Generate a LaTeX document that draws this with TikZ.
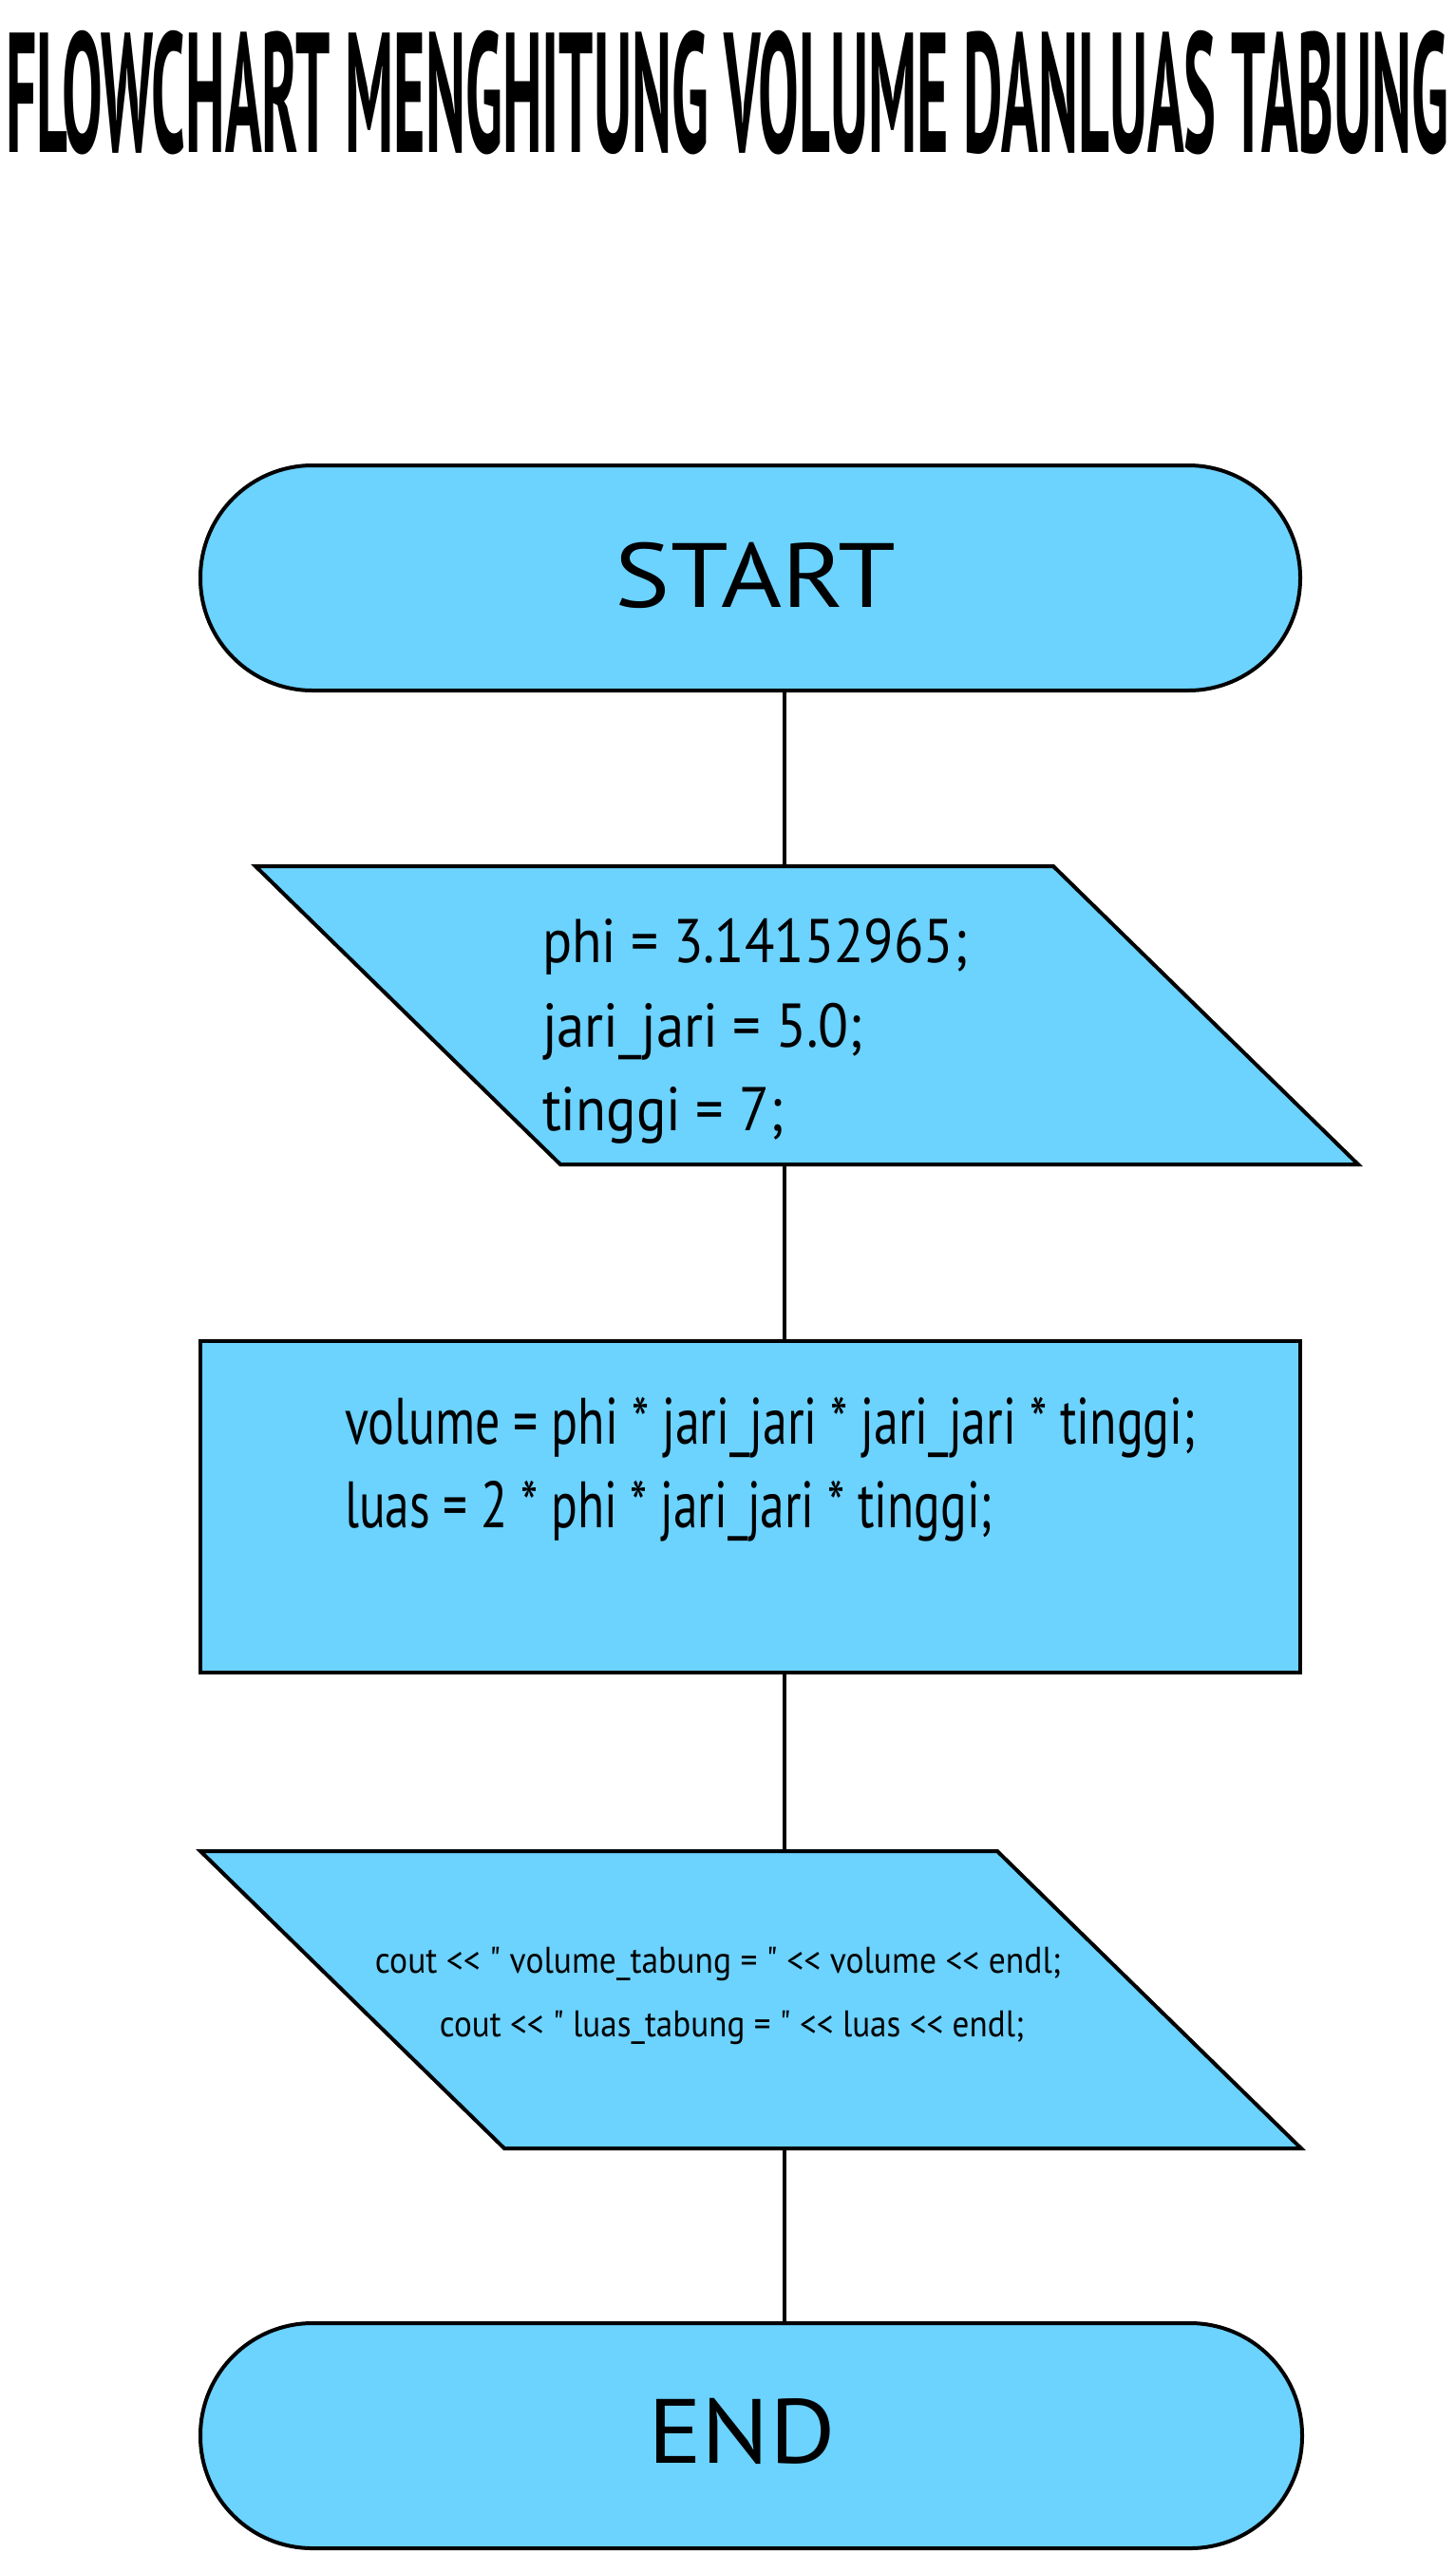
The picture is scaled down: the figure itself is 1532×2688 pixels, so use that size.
\documentclass[tikz,border=0pt]{standalone}
\usepackage{fontspec}
\setmainfont{PT Sans}[Ligatures=TeXOff]
\usepackage{graphicx}
\definecolor{fillblue}{RGB}{108,210,254}
\tikzset{
  shapebox/.style={draw=black, line width=4pt, fill=fillblue, inner sep=0pt},
  frame/.style={draw=none, inner sep=0pt, outer sep=0pt},
  link/.style={draw=black, line width=4pt},
  txt/.style={inner sep=0pt, outer sep=0pt, text=black},
}
\newcommand\fitw[2]{\resizebox{#1pt}{\height}{#2}}
\newcommand\termfont{\fontsize{96}{100}\selectfont}
\newcommand\infont{\fontsize{65}{70}\selectfont}
\newcommand\procfont{\fontsize{69}{74}\selectfont}
\newcommand\outfont{\fontsize{39}{44}\selectfont}
\begin{document}
\begin{tikzpicture}[x=1pt,y=-1pt]
\useasboundingbox[fill=white] (0,0) rectangle (1532,2688);
\coordinate (spine) at (826,0);

% title
\node[txt, anchor=base west] (title) at (6,160)
  {\resizebox{1519pt}{128pt}{\bfseries FLOWCHART MENGHITUNG VOLUME DANLUAS TABUNG}};

% shapes
\node[shapebox, rounded corners=118pt, minimum width=1158pt, minimum height=237pt] (start) at (790,608.5) {};

\node[frame, minimum width=1161pt, minimum height=314pt] (input) at (849.5,1069) {};
\draw[shapebox] ([xshift=321pt]input.south west) -- (input.south east)
  -- ([xshift=-321pt]input.north east) -- (input.north west) -- cycle;

\node[shapebox, minimum width=1158pt, minimum height=349pt] (proc) at (790,1586.5) {};

\node[frame, minimum width=1159pt, minimum height=313pt] (output) at (790.5,2105.5) {};
\draw[shapebox] ([xshift=320pt]output.south west) -- (output.south east)
  -- ([xshift=-320pt]output.north east) -- (output.north west) -- cycle;

\node[shapebox, rounded corners=118pt, minimum width=1160pt, minimum height=237pt] (end) at (791,2564.5) {};

% connectors
\draw[link] (start.south -| spine) -- (input.north -| spine);
\draw[link] (input.south -| spine) -- (proc.north -| spine);
\draw[link] (proc.south -| spine) -- (output.north -| spine);
\draw[link] (output.south -| spine) -- (end.north -| spine);

% texts
\node[txt, anchor=base] (starttext) at (795.5,639) {\termfont\fitw{295}{START}};
\node[txt, anchor=base] (endtext) at (781,2593) {\termfont\fitw{198}{END}};

\node[txt, anchor=base west] (in1) at (571,1013) {\infont\fitw{448}{phi = 3.14152965;}};
\node[txt, anchor=base west] (in2) at (571,1102) {\infont\fitw{338}{jari\_jari = 5.0;}};
\node[txt, anchor=base west] (in3) at (571,1190) {\infont\fitw{254}{tinggi = 7;}};

\node[txt, anchor=base west] (pr1) at (363,1520) {\procfont\fitw{896}{volume = phi * jari\_jari * jari\_jari * tinggi;}};
\node[txt, anchor=base west] (pr2) at (363,1608) {\procfont\fitw{682}{luas = 2 * phi * jari\_jari * tinggi;}};

\node[txt, anchor=base] (out1) at (756,2077) {\outfont\fitw{722}{cout << " volume\_tabung = " << volume << endl;}};
\node[txt, anchor=base] (out2) at (770.5,2144) {\outfont\fitw{615}{cout << " luas\_tabung = " << luas << endl;}};
\end{tikzpicture}
\end{document}
